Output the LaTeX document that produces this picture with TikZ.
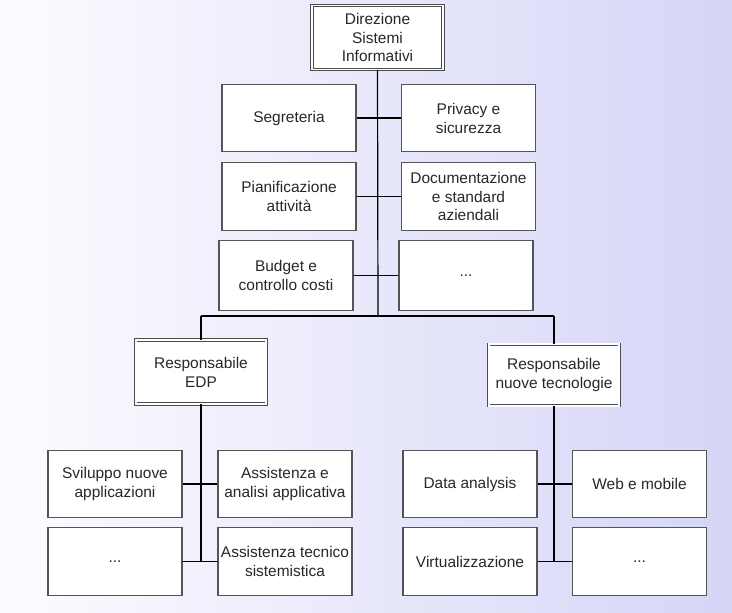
\documentclass[tikz,border=0pt]{standalone}
\usepackage{fontspec}
\setmainfont{Liberation Sans}
\definecolor{bgL}{RGB}{252,252,255}
\definecolor{bgR}{RGB}{213,213,247}
\definecolor{boxline}{RGB}{85,85,85}
\definecolor{txt}{RGB}{40,40,40}
\begin{document}
\begin{tikzpicture}[x=0.75pt,y=-0.75pt,
  box/.style={draw=boxline,line width=0.8pt,fill=white,inner sep=0pt,align=center,
    text=txt,font=\fontsize{11.6}{14.2}\selectfont,
    minimum width=100.5pt,minimum height=50.5pt},
  headbox/.style={box,double=white,double distance=1.3pt,line width=0.7pt,draw=black!70,
    minimum width=98pt,minimum height=48pt},
  link/.style={draw=black,line width=0.9pt}]
\shade[left color=bgL,right color=bgR] (0,0) rectangle (732,612);
\useasboundingbox (0,0) rectangle (732,612);
% top level
\node[headbox] (top) at (377.5,37.5) {Direzione\\Sistemi\\Informativi};
\node[box] (seg) at (289,118) {Segreteria};
\node[box] (priv) at (468.5,118) {Privacy e\\sicurezza};
\node[box] (pian) at (289,196.5) {Pianificazione\\attività};
\node[box] (doc) at (468.5,196.5) {Documentazione\\e standard\\aziendali};
\node[box,minimum height=52pt] (bud) at (286,275.5) {Budget e\\controllo costi};
\node[box,minimum height=52pt] (dotsT) at (466,275.5) {...};
\coordinate (spine) at (378,316);
\coordinate (barL) at (201,316);
\coordinate (barR) at (554,316);
\draw[link] (top.south) -- (spine);
\draw[link] (seg.east) -- (priv.west);
\draw[link] (pian.east) -- (doc.west);
\draw[link] (bud.east) -- (dotsT.west);
\draw[link,line width=0.8pt] (barL) -- (barR);
% second level
\node[headbox] (edp) at (201,372) {Responsabile\\EDP};
\node[headbox,minimum height=46pt] (rnt) at (554,375) {Responsabile\\nuove tecnologie};
\draw[link,line width=0.8pt] (barL) -- (edp.north);
\draw[link,line width=0.8pt] (barR) -- (rnt.north);
% EDP group
\node[box] (svil) at (115,484) {Sviluppo nuove\\applicazioni};
\node[box] (assan) at (285,484) {Assistenza e\\analisi applicativa};
\node[box] (dotsL) at (115,561.5) {...};
\node[box] (asstec) at (285,561.5) {Assistenza tecnico\\sistemistica};
\draw[link] (edp.south) -- (edp.south |- dotsL.east);
\draw[link] (svil.east) -- (assan.west);
\draw[link] (dotsL.east) -- (asstec.west);
% nuove tecnologie group
\node[box] (data) at (470,484) {Data analysis};
\node[box] (web) at (639.5,484) {Web e mobile};
\node[box] (virt) at (470,561.5) {Virtualizzazione};
\node[box] (dotsR) at (639.5,561.5) {...};
\draw[link] (rnt.south) -- (rnt.south |- virt.east);
\draw[link] (data.east) -- (web.west);
\draw[link] (virt.east) -- (dotsR.west);
\end{tikzpicture}
\end{document}
